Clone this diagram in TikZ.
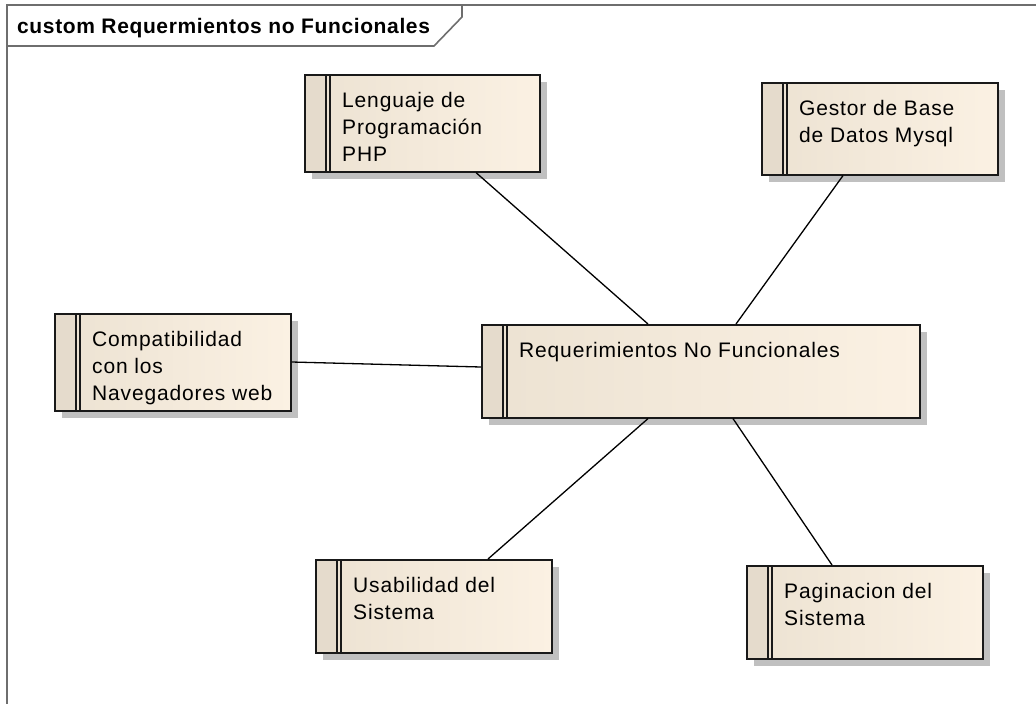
\documentclass[tikz,border=0pt]{standalone}
\usepackage{fontspec}
\setmainfont{Liberation Sans}
\newfontfamily\hdrfont[LetterSpace=3]{Liberation Sans}
\newfontfamily\reqfont[LetterSpace=4]{Liberation Sans}
\usetikzlibrary{shadows}
\definecolor{reqleft}{RGB}{236,226,210}
\definecolor{reqright}{RGB}{251,241,227}
\definecolor{reqbar}{RGB}{229,219,204}
\definecolor{framegray}{RGB}{110,110,110}
\definecolor{shadowgray}{RGB}{192,192,192}

\begin{document}
\begin{tikzpicture}
  [
   x=1pt,y=-1pt,
   rq/.style={rectangle,draw=black!90,line width=1.6pt,anchor=north west,inner sep=0pt,
     left color=reqleft,right color=reqright,
     drop shadow={shadow xshift=7pt,shadow yshift=-7pt,fill=shadowgray,opacity=1},
     path picture={
       \fill[reqbar] (path picture bounding box.north west) rectangle ([xshift=21pt]path picture bounding box.south west);
       \draw[line width=1.4pt] ([xshift=21pt]path picture bounding box.north west) -- ([xshift=21pt]path picture bounding box.south west);
       \draw[line width=1.4pt] ([xshift=25pt]path picture bounding box.north west) -- ([xshift=25pt]path picture bounding box.south west);
     }},
   rqtxt/.style={anchor=north west,inner sep=0pt,xshift=38pt,yshift=-18pt,align=left,
     font={\reqfont\fontsize{21pt}{27pt}\selectfont}},
   conn/.style={-,line width=1.3pt,black},
   frm/.style={draw=framegray,line width=1.6pt}
  ]
   \useasboundingbox (0,0) rectangle (1036,704);

   % frame and its tab
   \draw[frm] (1036,5) -- (7,5) -- (7,704);
   \draw[frm] (7,46) -- (434,46) -- (462,17) -- (462,5);
   \node[anchor=base west,inner sep=0pt,font={\hdrfont\bfseries\fontsize{21pt}{25pt}\selectfont}] (title) at (17,33) {custom Requermientos no Funcionales};

   \node[rq,minimum width=235pt,minimum height=97pt,label={[rqtxt]north west:Lenguaje de\\Programación\\PHP}] (lph) at (304,74) {};
   \node[rq,minimum width=236pt,minimum height=92pt,label={[rqtxt]north west:Gestor de Base\\de Datos Mysql}] (gbd) at (761,82) {};
   \node[rq,minimum width=236pt,minimum height=97pt,label={[rqtxt]north west:Compatibilidad\\con los\\Navegadores web}] (cnv) at (54,313) {};
   \node[rq,minimum width=438pt,minimum height=93pt,label={[rqtxt]north west:Requerimientos No Funcionales}] (rnf) at (481,324) {};
   \node[rq,minimum width=236pt,minimum height=93pt,label={[rqtxt]north west:Usabilidad del\\Sistema}] (usa) at (315,559) {};
   \node[rq,minimum width=236pt,minimum height=93pt,label={[rqtxt]north west:Paginacion del\\Sistema}] (pag) at (746,565) {};

   \draw[conn] ([xshift=172pt]lph.south west) -- ([xshift=167pt]rnf.north west);
   \draw[conn] ([xshift=82pt]gbd.south west) -- ([xshift=255pt]rnf.north west);
   \draw[conn] ([yshift=-49pt]cnv.north east) -- ([yshift=-43pt]rnf.north west);
   \draw[conn] ([xshift=167pt]rnf.south west) -- ([xshift=173pt]usa.north west);
   \draw[conn] ([xshift=252pt]rnf.south west) -- ([xshift=86pt]pag.north west);

\end{tikzpicture}
\end{document}
